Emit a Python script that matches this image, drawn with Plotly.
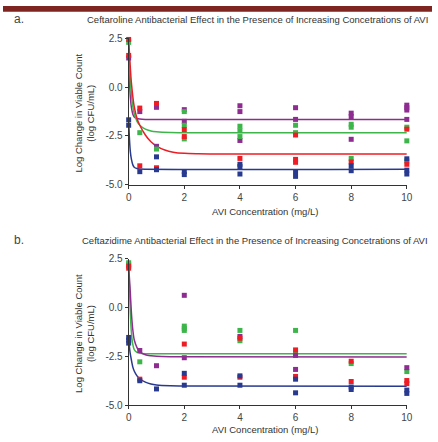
import plotly.graph_objects as go

# ---------------- DATA ----------------
colors = {"purple": "#8E2C91", "green": "#3DB54A", "red": "#EE1D25", "blue": "#283A90"}

# Panel a: Ceftaroline observed points
a_purple_x = [0, 0.4, 1, 1, 2, 2, 4, 4, 4, 6, 6, 8, 8, 8, 10, 10, 10, 10]
a_purple_y = [1.5, -1.25, -1.03, -3.03, -1.15, -1.75, -0.95, -1.25, -2.73, -1.05, -1.65, -1.33, -1.5, -2.67, -0.92, -1.05, -1.17, -1.65]
a_green_x = [0, 0.4, 1, 2, 2, 2, 4, 4, 4, 6, 6, 8, 8, 8, 10, 10, 10]
a_green_y = [2.3, -2.33, -3.17, -1.25, -1.95, -2.65, -2.0, -2.23, -2.53, -1.95, -2.33, -1.9, -2.05, -3.65, -2.05, -2.75, -3.78]
a_red_x = [0, 0, 0.4, 0.4, 1, 1, 2, 2, 4, 6, 6, 6, 8, 10, 10]
a_red_y = [2.45, 1.63, -1.07, -4.03, -0.83, -4.13, -2.17, -2.53, -3.65, -2.45, -3.7, -3.85, -3.83, -2.15, -3.95]
a_blue_x = [0, 0, 0.4, 1, 1, 2, 2, 4, 4, 4, 6, 6, 8, 8, 10, 10, 10]
a_blue_y = [-1.67, -1.95, -4.33, -3.57, -4.23, -4.32, -4.48, -3.95, -4.07, -4.45, -4.33, -4.57, -4.03, -4.28, -3.67, -4.25, -4.45]

# Panel a: fitted curves
a_fit_red_x = [0, 0.05, 0.1, 0.2, 0.3, 0.4, 0.6, 0.8, 1.0, 1.3, 1.6, 2.0, 2.5, 3, 10]
a_fit_red_y = [2.45, 1.2, 0.2, -1.0, -1.6, -1.95, -2.45, -2.8, -3.02, -3.22, -3.33, -3.39, -3.41, -3.42, -3.42]
a_fit_green_x = [0, 0.05, 0.1, 0.15, 0.2, 0.3, 0.4, 0.6, 0.8, 1.0, 1.5, 2, 10]
a_fit_green_y = [2.3, 0.6, -0.4, -1.0, -1.35, -1.75, -1.95, -2.15, -2.24, -2.28, -2.32, -2.33, -2.33]
a_fit_purple_x = [0, 0.03, 0.06, 0.1, 0.15, 0.2, 0.3, 0.4, 0.6, 10]
a_fit_purple_y = [1.5, 0.3, -0.5, -1.05, -1.38, -1.52, -1.6, -1.63, -1.65, -1.65]
a_fit_blue_x = [0, 0.03, 0.06, 0.1, 0.15, 0.2, 0.3, 0.4, 10]
a_fit_blue_y = [-1.7, -2.7, -3.3, -3.7, -3.98, -4.1, -4.17, -4.19, -4.2]

# Panel b: Ceftazidime observed points
b_green_x = [0, 0, 0.4, 2, 2, 2, 4, 4, 6, 6, 8, 10]
b_green_y = [2.3, 2.22, -2.78, -0.95, -1.07, -1.17, -1.17, -1.7, -1.17, -2.33, -2.87, -3.28]
b_purple_x = [0.4, 1, 2, 2, 4, 6, 6, 10]
b_purple_y = [-2.2, -2.98, 0.63, -2.57, -1.48, -2.45, -3.17, -3.08]
b_red_x = [0, 0, 0.4, 2, 2, 4, 4, 6, 6, 8, 8, 10, 10]
b_red_y = [2.13, 2.02, -3.67, -1.87, -3.57, -1.57, -3.57, -2.17, -3.53, -2.75, -3.79, -3.74, -3.9]
b_blue_x = [0, 0, 0, 0.4, 1, 2, 2, 4, 4, 6, 6, 8, 8, 10, 10]
b_blue_y = [-1.53, -1.67, -1.82, -3.75, -4.17, -3.37, -3.98, -3.5, -3.98, -3.67, -4.37, -4.07, -4.2, -4.23, -4.4]

# Panel b: fitted curves
b_fit_green_x = [0, 0.03, 0.06, 0.1, 0.15, 0.2, 0.3, 0.4, 0.6, 10]
b_fit_green_y = [2.2, 1.0, -0.3, -1.3, -1.9, -2.15, -2.3, -2.34, -2.36, -2.37]
b_fit_purple_x = [0, 0.05, 0.1, 0.15, 0.2, 0.3, 0.4, 0.6, 0.8, 1.0, 1.5, 10]
b_fit_purple_y = [2.1, 1.0, -0.3, -1.15, -1.65, -2.05, -2.27, -2.42, -2.47, -2.5, -2.52, -2.53]
b_fit_blue_x = [0, 0.05, 0.1, 0.15, 0.2, 0.3, 0.4, 0.6, 0.8, 1.0, 1.5, 2, 10]
b_fit_blue_y = [-1.6, -2.3, -2.7, -3.05, -3.25, -3.5, -3.65, -3.82, -3.92, -3.97, -4.01, -4.02, -4.03]

x_ticks = [0, 2, 4, 6, 8, 10]
y_ticks = [2.5, 0.0, -2.5, -5.0]
y_tick_labels = ["2.5", "0.0", "-2.5", "-5.0"]

title_a = "Ceftaroline Antibacterial Effect in the Presence of Increasing Concetrations of AVI"
title_b = "Ceftazidime Antibacterial Effect in the Presence of Increasing Concetrations of AVI"
x_title = "AVI Concentration (mg/L)"
y_title = "Log Change in Viable Count<br>(log CFU/mL)"

# ---------------- FIGURE ----------------
W, H = 438, 442
fig = go.Figure()

def add_fit(x, y, c, xa, ya):
    fig.add_trace(go.Scatter(x=x, y=y, mode="lines", line=dict(color=c, width=1.5, shape="spline", smoothing=0.7),
                             xaxis=xa, yaxis=ya, showlegend=False, hoverinfo="skip", cliponaxis=False))

def add_pts(x, y, c, xa, ya):
    fig.add_trace(go.Scatter(x=x, y=y, mode="markers", marker=dict(symbol="square", size=5, color=c),
                             xaxis=xa, yaxis=ya, showlegend=False, cliponaxis=False))

# panel a
add_fit(a_fit_purple_x, a_fit_purple_y, colors["purple"], "x", "y")
add_fit(a_fit_green_x, a_fit_green_y, colors["green"], "x", "y")
add_fit(a_fit_red_x, a_fit_red_y, colors["red"], "x", "y")
add_fit(a_fit_blue_x, a_fit_blue_y, colors["blue"], "x", "y")
add_pts(a_purple_x, a_purple_y, colors["purple"], "x", "y")
add_pts(a_green_x, a_green_y, colors["green"], "x", "y")
add_pts(a_red_x, a_red_y, colors["red"], "x", "y")
add_pts(a_blue_x, a_blue_y, colors["blue"], "x", "y")

# panel b
add_fit(b_fit_green_x, b_fit_green_y, colors["green"], "x2", "y2")
add_fit(b_fit_purple_x, b_fit_purple_y, colors["purple"], "x2", "y2")
add_fit(b_fit_blue_x, b_fit_blue_y, colors["blue"], "x2", "y2")
add_pts(b_green_x, b_green_y, colors["green"], "x2", "y2")
add_pts(b_purple_x, b_purple_y, colors["purple"], "x2", "y2")
add_pts(b_red_x, b_red_y, colors["red"], "x2", "y2")
add_pts(b_blue_x, b_blue_y, colors["blue"], "x2", "y2")

def px_x(p):
    return p / W

def px_y(p):
    return 1 - p / H

xdom = [px_x(128.3), px_x(412.3)]
ya_dom = [px_y(183.3), px_y(33.3)]
yb_dom = [px_y(409.3), px_y(259.3)]

FONT = "Liberation Sans, Arial, sans-serif"
tick_font = dict(family=FONT, size=10, color="#444")
axis_common = dict(showgrid=False, zeroline=False, showline=True, linecolor="#333", linewidth=1,
                   ticks="outside", ticklen=3, tickcolor="#333", tickfont=tick_font)

fig.update_layout(
    width=W, height=H, margin=dict(l=0, r=0, t=0, b=0),
    paper_bgcolor="white", plot_bgcolor="white",
    font=dict(family=FONT, color="#333"),
    xaxis=dict(domain=xdom, range=[0, 10], tickvals=x_ticks, anchor="y", **axis_common),
    yaxis=dict(domain=ya_dom, range=[-5, 2.5], tickvals=y_ticks, ticktext=y_tick_labels, anchor="x", **axis_common),
    xaxis2=dict(domain=xdom, range=[0, 10], tickvals=x_ticks, anchor="y2", **axis_common),
    yaxis2=dict(domain=yb_dom, range=[-5, 2.5], tickvals=y_ticks, ticktext=y_tick_labels, anchor="x2", **axis_common),
)

# top banner
fig.add_shape(type="rect", xref="paper", yref="paper", x0=0, x1=1, y0=px_y(6), y1=1,
              fillcolor="#7E2522", line=dict(width=0), layer="above")

txt_font = dict(family=FONT, size=9.5, color="#333")
ann = []
for lab, ty in [("a.", 13.5), ("b.", 239.5)]:
    ann.append(dict(text=lab, x=px_x(9), y=px_y(ty), xref="paper", yref="paper", xanchor="left", yanchor="middle",
                    showarrow=False, font=dict(family=FONT, size=12, color="#444")))
for t, ty in [(title_a, 13.5), (title_b, 240.5)]:
    ann.append(dict(text=t, x=px_x(436), y=px_y(ty), xref="paper", yref="paper", xanchor="right", yanchor="middle",
                    showarrow=False, font=txt_font))
for ty in [211, 434]:
    ann.append(dict(text=x_title, x=px_x(268), y=px_y(ty), xref="paper", yref="paper", xanchor="center", yanchor="middle",
                    showarrow=False, font=txt_font))
for cy in [110, 336]:
    ann.append(dict(text=y_title, x=px_x(83), y=px_y(cy), xref="paper", yref="paper", xanchor="center", yanchor="middle",
                    textangle=-90, showarrow=False, font=txt_font))
fig.update_layout(annotations=ann)

fig.write_html("out.html", config={"displayModeBar": False},
               post_script="document.body.style.margin='0';document.body.style.overflow='hidden';")
